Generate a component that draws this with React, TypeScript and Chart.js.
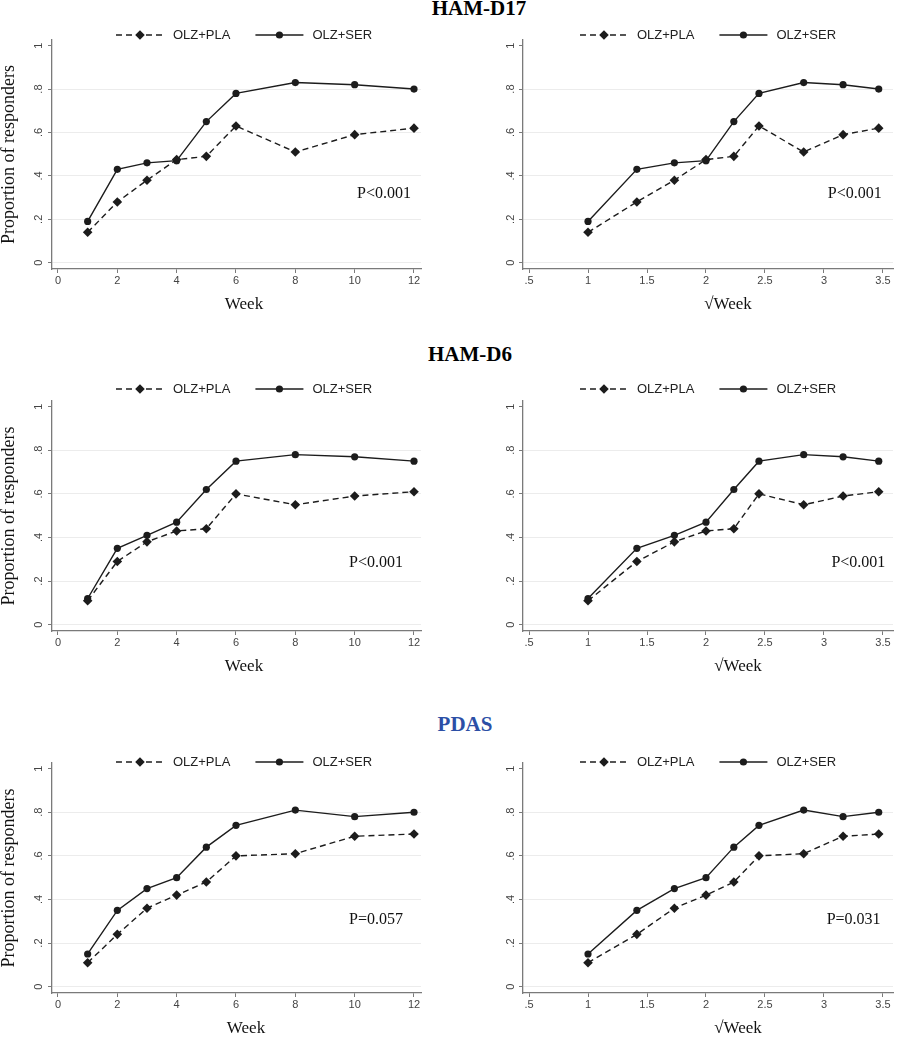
import React, { useEffect, useRef } from "react";
import { Chart, registerables } from "chart.js";

Chart.register(...registerables);

// ---------------- data ----------------
const weeks = [1, 2, 3, 4, 5, 6, 8, 10, 12];
const sqrtWeeks = [1, 1.414, 1.732, 2, 2.236, 2.449, 2.828, 3.162, 3.464];
const seriesNames = ["OLZ+PLA", "OLZ+SER"];
const panelTitles = ["HAM-D17", "HAM-D6", "PDAS"];

const hamd17Pla = [0.14, 0.28, 0.38, 0.475, 0.49, 0.63, 0.51, 0.59, 0.62];
const hamd17Ser = [0.19, 0.43, 0.46, 0.47, 0.65, 0.78, 0.83, 0.82, 0.8];
const hamd6Pla = [0.11, 0.29, 0.38, 0.43, 0.44, 0.6, 0.55, 0.59, 0.61];
const hamd6Ser = [0.12, 0.35, 0.41, 0.47, 0.62, 0.75, 0.78, 0.77, 0.75];
const pdasPla = [0.11, 0.24, 0.36, 0.42, 0.48, 0.6, 0.61, 0.69, 0.7];
const pdasSer = [0.15, 0.35, 0.45, 0.5, 0.64, 0.74, 0.81, 0.78, 0.8];

const weekTicks = [0, 2, 4, 6, 8, 10, 12];
const weekTickLabels = ["0", "2", "4", "6", "8", "10", "12"];
const sqrtWeekTicks = [0.5, 1, 1.5, 2, 2.5, 3, 3.5];
const sqrtWeekTickLabels = [".5", "1", "1.5", "2", "2.5", "3", "3.5"];
const yTicks = [0, 0.2, 0.4, 0.6, 0.8, 1];
const yTickLabels = ["0", ".2", ".4", ".6", ".8", "1"];

const pWeek = ["P<0.001", "P<0.001", "P=0.057"];
const pSqrtWeek = ["P<0.001", "P<0.001", "P=0.031"];
const xTitles = ["Week", "\u221AWeek"];
const yTitle = "Proportion of responders";

const SERIES = [
  [hamd17Pla, hamd17Ser],
  [hamd6Pla, hamd6Ser],
  [pdasPla, pdasSer],
];

// ---------------- layout / style ----------------
const INK = "#1c1c1c";
const AXIS = "#7a7a7a";
const TICKTXT = "#444";
const SANS = '"Liberation Sans", Arial, sans-serif';
const SERIF = '"Liberation Serif", "Times New Roman", serif';

const ROWS = [
  { top: 20, axisTop: 40, axisBottom: 269, legendY: 35, titleTop: -2, titleCx: 479, titleColor: "#000", xTitleCx: [244, 278], pX: [11.9, 3.49], pY: [0.317, 0.317] },
  { top: 375, axisTop: 401, axisBottom: 631, legendY: 389, titleTop: 344, titleCx: 470, titleColor: "#000", xTitleCx: [244, 288], pX: [11.63, 3.52], pY: [0.286, 0.286] },
  { top: 745, axisTop: 763, axisBottom: 993, legendY: 762, titleTop: 714, titleCx: 465, titleColor: "#2c4fa6", xTitleCx: [246, 288], pX: [11.63, 3.48], pY: [0.307, 0.307] },
];

const SIDES = [
  { left: 0, width: 450, yWidth: 52, padRight: 29, xMin: -0.202, xMax: 12.236, legendCx: 244, yLabelOff: 13 },
  { left: 450, width: 453, yWidth: 73, padRight: 10, xMin: 0.449, xMax: 3.585, legendCx: 258, yLabelOff: 12 },
];

const X_HEIGHT = 45;

function Panel({ r, s }: { r: number; s: number }) {
  const ref = useRef<HTMLCanvasElement>(null);
  const row = ROWS[r];
  const side = SIDES[s];
  const H = row.axisBottom - row.top + X_HEIGHT + 5;

  useEffect(() => {
    const xs = s === 0 ? weeks : sqrtWeeks;
    const [pla, ser] = SERIES[r];
    const xTickVals = s === 0 ? weekTicks : sqrtWeekTicks;
    const xTickLbls = s === 0 ? weekTickLabels : sqrtWeekTickLabels;
    const pText = s === 0 ? pWeek[r] : pSqrtWeek[r];

    const legendPlugin = {
      id: "customLegend",
      afterDraw(chart: any) {
        const ctx = chart.ctx;
        ctx.save();
        ctx.font = `13px ${SANS}`;
        const lineLen = 48;
        const gapText = 9;
        const gapItem = 25;
        const widths = seriesNames.map((n) => ctx.measureText(n).width);
        const total = 2 * lineLen + 2 * gapText + gapItem + widths[0] + widths[1];
        let x = side.legendCx - total / 2;
        const y = row.legendY - row.top;
        seriesNames.forEach((name, i) => {
          ctx.strokeStyle = INK;
          ctx.lineWidth = 1.4;
          ctx.setLineDash(i === 0 ? [6, 4] : []);
          ctx.beginPath();
          ctx.moveTo(x, y);
          ctx.lineTo(x + lineLen, y);
          ctx.stroke();
          ctx.setLineDash([]);
          const cx = x + lineLen / 2;
          ctx.fillStyle = INK;
          ctx.beginPath();
          if (i === 0) {
            const d = 4.8;
            ctx.moveTo(cx - d, y);
            ctx.lineTo(cx, y - d);
            ctx.lineTo(cx + d, y);
            ctx.lineTo(cx, y + d);
            ctx.closePath();
          } else {
            ctx.arc(cx, y, 3.6, 0, Math.PI * 2);
          }
          ctx.fill();
          ctx.fillStyle = "#222";
          ctx.textAlign = "left";
          ctx.textBaseline = "middle";
          ctx.fillText(name, x + lineLen + gapText, y + 0.5);
          x += lineLen + gapText + widths[i] + gapItem;
        });
        ctx.restore();
      },
    };

    const textPlugin = {
      id: "panelText",
      afterDatasetsDraw(chart: any) {
        const ctx = chart.ctx;
        const xs_ = chart.scales.x;
        const ys_ = chart.scales.y;
        ctx.save();
        // p-value annotation
        ctx.font = `16px ${SERIF}`;
        ctx.fillStyle = "#111";
        ctx.textAlign = "right";
        ctx.textBaseline = "middle";
        ctx.fillText(pText, xs_.getPixelForValue(row.pX[s]), ys_.getPixelForValue(row.pY[s]));
        // rotated y tick labels (read bottom-to-top)
        ctx.font = `11px ${SANS}`;
        ctx.fillStyle = TICKTXT;
        ctx.textAlign = "center";
        ctx.textBaseline = "middle";
        const lx = chart.chartArea.left - side.yLabelOff;
        yTicks.forEach((v, i) => {
          ctx.save();
          ctx.translate(lx, ys_.getPixelForValue(v));
          ctx.rotate(-Math.PI / 2);
          ctx.fillText(yTickLabels[i], 0, 0);
          ctx.restore();
        });
        // x axis title
        ctx.font = `17px ${SERIF}`;
        ctx.fillStyle = "#111";
        ctx.textAlign = "center";
        ctx.textBaseline = "middle";
        ctx.fillText(xTitles[s], row.xTitleCx[s], chart.chartArea.bottom + 36);
        ctx.restore();
      },
    };

    const chart = new Chart(ref.current as HTMLCanvasElement, {
      type: "line",
      data: {
        datasets: [
          {
            label: seriesNames[0],
            data: xs.map((x, i) => ({ x, y: pla[i] })),
            borderColor: INK,
            backgroundColor: INK,
            borderWidth: 1.4,
            borderDash: [6, 4],
            pointStyle: "rectRot",
            pointRadius: 4.8,
            pointBorderWidth: 0,
            pointBackgroundColor: INK,
            tension: 0,
          },
          {
            label: seriesNames[1],
            data: xs.map((x, i) => ({ x, y: ser[i] })),
            borderColor: INK,
            backgroundColor: INK,
            borderWidth: 1.4,
            pointStyle: "circle",
            pointRadius: 3.6,
            pointBorderWidth: 0,
            pointBackgroundColor: INK,
            tension: 0,
          },
        ],
      },
      options: {
        responsive: false,
        animation: false,
        devicePixelRatio: 1,
        layout: {
          padding: {
            top: row.axisTop - row.top,
            left: 0,
            right: side.padRight,
            bottom: 5,
          },
        },
        plugins: {
          legend: { display: false },
          tooltip: { enabled: false },
        },
        scales: {
          x: {
            type: "linear",
            min: side.xMin,
            max: side.xMax,
            afterBuildTicks: (sc: any) => {
              sc.ticks = xTickVals.map((v) => ({ value: v }));
            },
            afterFit: (sc: any) => {
              sc.height = X_HEIGHT;
            },
            border: { display: true, color: AXIS, width: 1.3 },
            grid: {
              display: true,
              drawOnChartArea: false,
              drawTicks: true,
              tickLength: 4,
              tickColor: AXIS,
              tickWidth: 1,
            },
            ticks: {
              autoSkip: false,
              maxRotation: 0,
              minRotation: 0,
              padding: 1,
              color: TICKTXT,
              font: { family: SANS, size: 11 },
              callback: (_v: any, i: number) => xTickLbls[i],
            },
            title: { display: false },
          },
          y: {
            type: "linear",
            min: -0.029,
            max: 1.026,
            afterBuildTicks: (sc: any) => {
              sc.ticks = yTicks.map((v) => ({ value: v }));
            },
            afterFit: (sc: any) => {
              sc.width = side.yWidth;
            },
            border: { display: true, color: AXIS, width: 1.3 },
            grid: {
              display: true,
              drawOnChartArea: true,
              drawTicks: true,
              tickLength: 4,
              color: (c: any) => (c.tick && c.tick.value === 1 ? "rgba(0,0,0,0)" : "#ececec"),
              tickColor: AXIS,
              lineWidth: 1,
            },
            ticks: {
              autoSkip: false,
              padding: 4,
              color: "rgba(0,0,0,0)",
              font: { family: SANS, size: 11 },
              callback: (_v: any, i: number) => yTickLabels[i],
            },
            title: {
              display: s === 0,
              text: yTitle,
              color: "#111",
              font: { family: SERIF, size: 18, lineHeight: 1 },
              padding: { top: 0, bottom: 0 },
            },
          },
        },
      },
      plugins: [legendPlugin, textPlugin],
    } as any);
    return () => chart.destroy();
  }, [r, s]);

  return (
    <div
      style={{
        position: "absolute",
        left: side.left,
        top: row.top,
        width: side.width,
        height: H,
      }}
    >
      <canvas ref={ref} width={side.width} height={H} style={{ display: "block" }} />
    </div>
  );
}

export default function App() {
  return (
    <div
      style={{
        position: "absolute",
        left: 0,
        top: 0,
        width: 903,
        height: 1050,
        background: "#fff",
        overflow: "hidden",
      }}
    >
      {ROWS.map((row, r) => (
        <div
          key={"t" + r}
          style={{
            position: "absolute",
            left: row.titleCx,
            top: row.titleTop,
            transform: "translateX(-50%)",
            font: `bold 21px ${SERIF}`,
            lineHeight: "21px",
            whiteSpace: "nowrap",
            color: row.titleColor,
            zIndex: 2,
          }}
        >
          {panelTitles[r]}
        </div>
      ))}
      {ROWS.map((_row, r) =>
        SIDES.map((_side, s) => <Panel key={r + "-" + s} r={r} s={s} />)
      )}
    </div>
  );
}
